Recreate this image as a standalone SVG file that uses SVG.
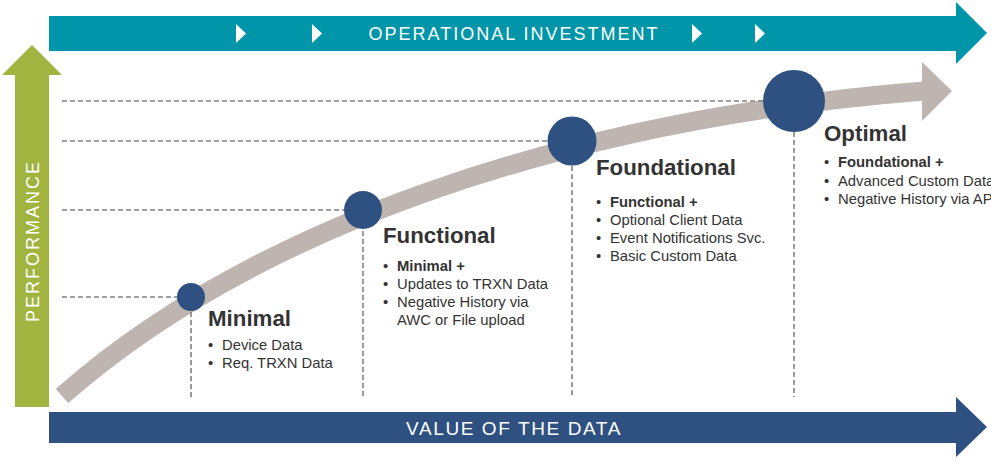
<svg xmlns="http://www.w3.org/2000/svg" width="991" height="463" viewBox="0 0 991 463">
  <style>
    .lead { stroke: #808080; stroke-width: 1.6; stroke-dasharray: 5 3; fill: none; }
    .dot { fill: #2e5182; }
    .title { font-family: "Liberation Sans", Arial, sans-serif; font-weight: bold; font-size: 22.3px; fill: #333333; }
    .item { font-family: "Liberation Sans", Arial, sans-serif; font-size: 14.8px; fill: #333333; }
    .strong { font-weight: bold; }
    .band { font-family: "Liberation Sans", Arial, sans-serif; font-size: 18px; fill: #ffffff; letter-spacing: 2px; }
    .tick { fill: #ffffff; }
  </style>

  <!-- top axis: operational investment -->
  <g id="investment-axis">
    <polygon points="49,16 956,16 956,2 987,33 956,64 956,51 49,51" fill="#0095a8"/>
    <polygon class="tick" points="236,24 246,33.5 236,43"/>
    <polygon class="tick" points="312,24 322,33.5 312,43"/>
    <polygon class="tick" points="692,24 702,33.5 692,43"/>
    <polygon class="tick" points="755,24 765,33.5 755,43"/>
    <text class="band" x="514" y="40" text-anchor="middle">OPERATIONAL INVESTMENT</text>
  </g>

  <!-- vertical axis: performance -->
  <g id="performance-axis">
    <polygon points="15,407 15,75 2,75 32,45 62,75 49,75 49,407" fill="#a0b43f"/>
    <text class="band" x="0" y="0" text-anchor="middle" transform="translate(38.5,241) rotate(-90)">PERFORMANCE</text>
  </g>

  <!-- bottom axis: value of the data -->
  <g id="value-axis">
    <polygon points="49,412 956,412 956,397 987,427 956,457 956,443 49,443" fill="#2e5182"/>
    <text class="band" x="514" y="435" text-anchor="middle" style="font-size:19px;letter-spacing:1.6px">VALUE OF THE DATA</text>
  </g>

  <!-- maturity curve -->
  <g id="curve">
    <path d="M62,396 C250,230 560,120 924,91" fill="none" stroke="#beb5b0" stroke-width="19"/>
    <polygon points="922,62 952,91 922,121" fill="#beb5b0"/>
  </g>

  <!-- guide lines from each stage to the axes -->
  <g id="connectors">
    <line class="lead" x1="62" y1="101" x2="765" y2="101"/>
    <line class="lead" x1="62" y1="141" x2="548" y2="141"/>
    <line class="lead" x1="62" y1="210" x2="345" y2="210"/>
    <line class="lead" x1="62" y1="297" x2="178" y2="297"/>
    <line class="lead" x1="191" y1="312" x2="191" y2="397"/>
    <line class="lead" x1="363" y1="231" x2="363" y2="397"/>
    <line class="lead" x1="572" y1="166" x2="572" y2="397"/>
    <line class="lead" x1="794" y1="132" x2="794" y2="397"/>
  </g>

  <g id="minimal">
    <circle class="dot" cx="191" cy="297" r="14"/>
    <text class="title" x="208" y="326">Minimal</text>
    <text class="item" x="208" y="350">•<tspan x="222">Device Data</tspan></text>
    <text class="item" x="208" y="368">•<tspan x="222">Req. TRXN Data</tspan></text>
  </g>

  <g id="functional">
    <circle class="dot" cx="363" cy="210" r="19"/>
    <text class="title" x="383" y="243">Functional</text>
    <text class="item" x="383" y="271">•<tspan class="strong" x="397">Minimal +</tspan></text>
    <text class="item" x="383" y="289">•<tspan x="397">Updates to TRXN Data</tspan></text>
    <text class="item" x="383" y="307">•<tspan x="397">Negative History via</tspan></text>
    <text class="item" x="397" y="325">AWC or File upload</text>
  </g>

  <g id="foundational">
    <circle class="dot" cx="572" cy="141" r="24.5"/>
    <text class="title" x="596" y="175">Foundational</text>
    <text class="item" x="596" y="207">•<tspan class="strong" x="610">Functional +</tspan></text>
    <text class="item" x="596" y="225">•<tspan x="610">Optional Client Data</tspan></text>
    <text class="item" x="596" y="243">•<tspan x="610">Event Notifications Svc.</tspan></text>
    <text class="item" x="596" y="261">•<tspan x="610">Basic Custom Data</tspan></text>
  </g>

  <g id="optimal">
    <circle class="dot" cx="794" cy="101" r="31"/>
    <text class="title" x="824" y="141">Optimal</text>
    <text class="item" x="824" y="167">•<tspan class="strong" x="838">Foundational +</tspan></text>
    <text class="item" x="824" y="186">•<tspan x="838">Advanced Custom Data</tspan></text>
    <text class="item" x="824" y="204">•<tspan x="838">Negative History via API</tspan></text>
  </g>
</svg>
